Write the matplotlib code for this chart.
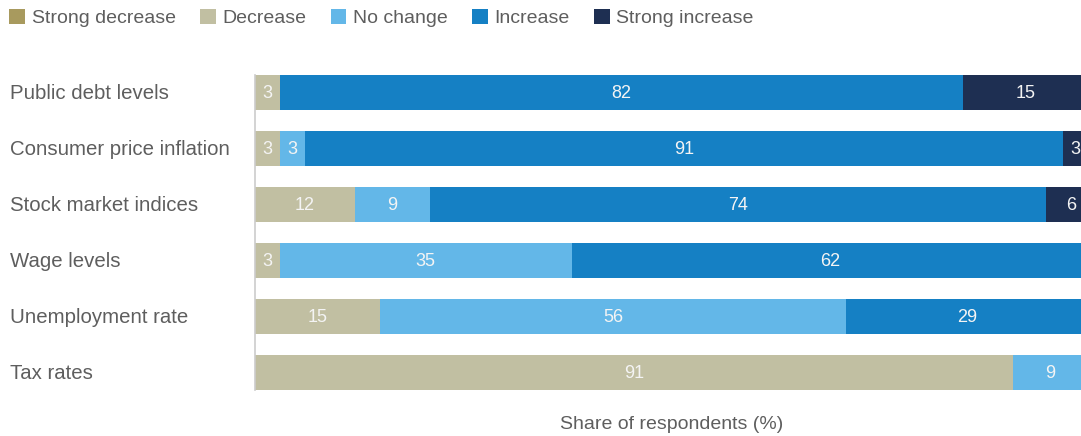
import matplotlib
matplotlib.use("Agg")
import matplotlib.pyplot as plt
from matplotlib.patches import Patch
import matplotlib.transforms as mtransforms

plt.rcParams['font.family'] = ['Liberation Sans', 'DejaVu Sans']

categories = ["Public debt levels", "Consumer price inflation", "Stock market indices",
              "Wage levels", "Unemployment rate", "Tax rates"]
series_names = ["Strong decrease", "Decrease", "No change", "Increase", "Strong increase"]
strong_decrease = [0, 0, 0, 0, 0, 0]
decrease = [3, 3, 12, 3, 15, 91]
no_change = [0, 3, 9, 35, 56, 9]
increase = [82, 91, 74, 62, 29, 0]
strong_increase = [15, 3, 6, 0, 0, 0]
series = [strong_decrease, decrease, no_change, increase, strong_increase]
colors = ["#a89a5e", "#c1bfa2", "#63b7e8", "#1580c4", "#1e2f52"]
xlabel = "Share of respondents (%)"

W, H = 1081, 436
fig = plt.figure(figsize=(W / 100, H / 100), dpi=100)
ax_left = 255 / W
ax_right = 1081 / W
ax_top = 1 - 64.5 / H
ax_bottom = 1 - 400.5 / H
ax = fig.add_axes([ax_left, ax_bottom, ax_right - ax_left, ax_top - ax_bottom])

ypos = list(range(len(categories)))
bar_h = 35 / 56
lefts = [0.0] * len(categories)
for vals, col in zip(series, colors):
    ax.barh(ypos, vals, left=lefts, height=bar_h, color=col, linewidth=0)
    for i, v in enumerate(vals):
        if v > 0:
            ax.text(lefts[i] + v / 2, i + 0.02, str(v), ha='center', va='center',
                    color='#f4f4f4', fontsize=13, clip_on=False)
    lefts = [l + v for l, v in zip(lefts, vals)]

ax.set_xlim(0, 826 / 8.33)
ax.set_ylim(len(categories) - 0.5, -0.5)
for s in ['top', 'right', 'bottom']:
    ax.spines[s].set_visible(False)
ax.spines['left'].set_color('#cccccc')
ax.spines['left'].set_linewidth(1.2)
ax.spines['left'].set_bounds(-bar_h / 2, len(categories) - 1 + bar_h / 2)
ax.set_xticks([])
ax.set_yticks([])

trans = mtransforms.blended_transform_factory(fig.transFigure, ax.transData)
for i, c in enumerate(categories):
    ax.text(10 / W, i + 0.02, c, transform=trans, ha='left', va='center',
            fontsize=14.7, color='#5e5e5e')

fig.text((255 + 1088) / 2 / W, 1 - 424 / H, xlabel, ha='center', va='center',
         fontsize=14, color='#5e5e5e')

handles = [Patch(facecolor=c, edgecolor='none') for c in colors]
leg = fig.legend(handles, series_names, loc='upper left', bbox_to_anchor=(-0.0075, 1.02),
                 ncol=5, frameon=False, handlelength=0.8, handleheight=0.8,
                 handletextpad=0.35, columnspacing=1.25, fontsize=14)
for t in leg.get_texts():
    t.set_color('#5e5e5e')

fig.savefig("out.png", dpi=100)
